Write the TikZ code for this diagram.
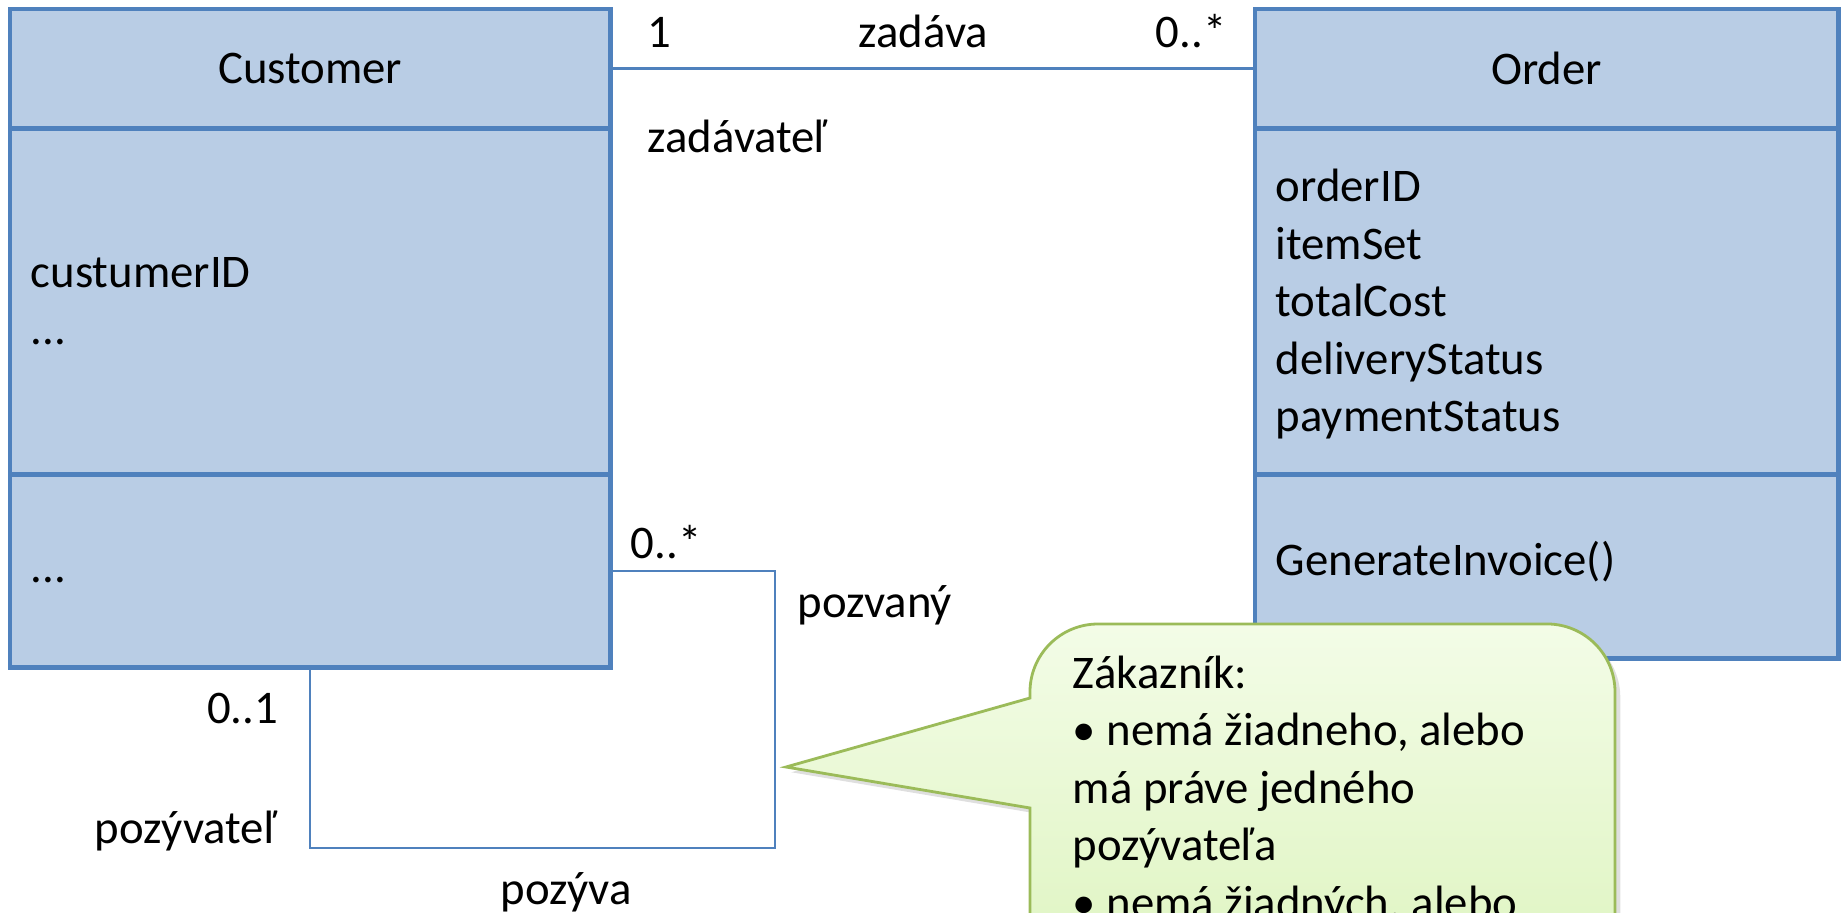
\documentclass[tikz,border=0pt]{standalone}
\usepackage{fontspec}
\setmainfont{Carlito}
\usetikzlibrary{positioning,shadows}
\definecolor{umlblue}{HTML}{4F81BD}
\definecolor{umlfill}{HTML}{B9CDE5}
\definecolor{notegreen}{HTML}{9BBB59}
\definecolor{notetop}{HTML}{F3FCE7}
\definecolor{notebot}{HTML}{DDF4BE}
\begin{document}
\begin{tikzpicture}[x=0.01cm,y=-0.01cm,
  font=\fontsize{13.3}{16.3}\selectfont,
  classpart/.style={draw=umlblue,fill=umlfill,line width=1.4pt,outer sep=0pt,inner sep=0pt,minimum width=#1},
  assoc/.style={draw=umlblue,line width=0.6pt},
  txt/.style={anchor=base west,inner sep=0pt},
  txtr/.style={anchor=base east,inner sep=0pt}]
\useasboundingbox (0,0) rectangle (1843,913);
\clip (0,0) rectangle (1843,913);

\node[classpart=6cm,minimum height=1.19cm,anchor=north west] (custHead) at (10,9) {Customer};
\node[classpart=6cm,minimum height=3.46cm,below=0pt of custHead] (custAttr) {};
\node[classpart=6cm,minimum height=1.93cm,below=0pt of custAttr] (custOps) {};

\node[classpart=5.83cm,minimum height=1.19cm,anchor=north west] (ordHead) at (1255,9) {Order};
\node[classpart=5.83cm,minimum height=3.46cm,below=0pt of ordHead] (ordAttr) {};
\node[classpart=5.83cm,minimum height=1.84cm,below=0pt of ordAttr] (ordOps) {};

\node[txt] (custId) at (30,288) {custumerID};
\node[txt] (custMore) at (30,345) {...};
\node[txt] (custOp) at (30,583) {...};

\foreach \t [count=\i] in {orderID,itemSet,totalCost,deliveryStatus,paymentStatus}
  \node[txt] (attr\i) at (1275,144.5+57.5*\i) {\t};
\node[txt] (ordOp) at (1275,575) {GenerateInvoice()};

\draw[assoc] (custHead.east) -- (ordHead.west);
\coordinate (loopCorner) at (775,848);
\draw[assoc] (custOps.east) -| (loopCorner) -| (custOps.south);

\node[txt] (multCust) at (647,48) {1};
\node[txt] (assocName) at (858,48) {zadáva};
\node[txt] (multOrd) at (1155,48) {0..*};
\node[txt] (roleCust) at (647,153) {zadávateľ};
\node[txt] (multInvited) at (630,558) {0..*};
\node[txt] (roleInvited) at (797,617) {pozvaný};
\node[txtr] (multInviter) at (279,723) {0..1};
\node[txtr] (roleInviter) at (277,843) {pozývateľ};
\node[txt] (selfName) at (500,904) {pozýva};

\coordinate (noteTip) at (786,767);
\path[draw=notegreen,line width=0.8pt,top color=notetop,bottom color=notebot,
  drop shadow={shadow xshift=1.5pt,shadow yshift=-1.5pt,opacity=0.25}]
  (1030,698) -- (noteTip) -- (1030,808) -- (1030,1000) -- (1615,1000) -- (1615,692)
  arc[start angle=0,end angle=90,radius=0.68cm] -- (1098,624)
  arc[start angle=90,end angle=180,radius=0.68cm] -- cycle;
\foreach \t [count=\i] in {Zákazník:,{• nemá žiadneho, alebo},má práve jedného,pozývateľa,{• nemá žiadných, alebo}}
  \node[txt] (note\i) at (1072,630.5+57.5*\i) {\t};
\end{tikzpicture}
\end{document}
